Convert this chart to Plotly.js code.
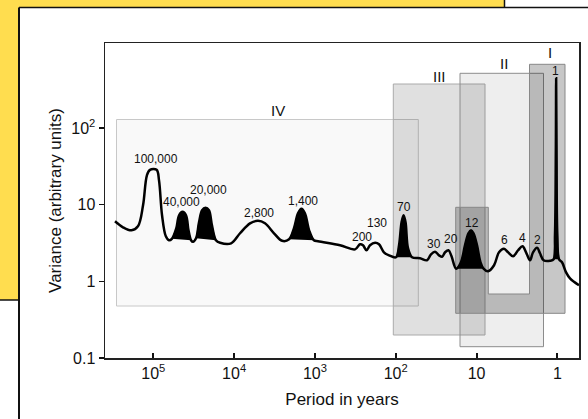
<!DOCTYPE html>
<html><head><meta charset="utf-8">
<script src="https://cdn.plot.ly/plotly-3.0.1.min.js"></script>
<style>html,body{margin:0;padding:0;background:#fff;}#chart{width:588px;height:419px;}</style>
</head><body><div id="chart"></div>
<script>
// ---- data ----
const periodYears = [298000,237000,186000,155000,134000,120000,110000,91000,85000,78000,
  70000,64000,59000,52000,48000,43500,39400,36700,34100,32300,
  29600,27200,24900,22600,20500,18800,16800,14900,10900,8450,
  6360,5060,4150,3210,2550,2090,1820,1620,1470,1330,
  1180,1030,916,489,319,277,254,230,208,180,
  161,140,121,99.1,91.0,84.7,80.0,75.6,70.4,62.8,
  50.0,41.0,36.6,32.6,29.1,26.7,24.5,22.2,20.4,17.9,
  15.6,13.9,12.6,11.7,10.9,9.86,8.93,8.19,7.21,6.07,
  5.27,4.57,4.07,3.53,3.06,2.70,2.44,2.18,2.00,1.78,
  1.64,1.48,1.23,1.11,1.07,1.044,1.035,1.023,1.00,0.953,
  0.875,0.780,0.697,0.540];
const variance = [6.06,5.06,4.62,5.21,9.79,24.1,28.4,28.4,20.7,7.26,
  3.86,3.43,3.58,4.91,7.26,8.05,7.26,4.62,3.43,3.27,
  3.64,5.88,8.43,9.08,8.43,5.37,3.43,3.18,3.13,4.23,
  5.70,6.15,5.70,4.23,3.37,3.53,4.91,7.71,8.81,7.71,
  4.62,3.43,3.32,2.95,2.61,3.04,2.95,2.54,2.95,3.18,
  3.04,2.39,2.18,2.06,2.95,5.88,7.26,5.88,2.69,2.06,
  2.00,1.88,2.25,2.43,2.18,2.09,2.39,2.54,2.12,1.46,
  1.77,2.95,4.23,4.62,4.23,2.95,1.77,1.46,1.35,1.62,
  2.39,2.65,2.39,2.12,2.54,2.86,2.39,1.88,2.39,2.74,
  2.32,1.88,1.85,1.94,3.98,51.0,443,51.0,3.98,1.94,
  1.77,1.31,1.09,0.887];
// index ranges (into the arrays above) of the black-filled peaks
const filledPeakRanges = [[12,18],[20,26],[35,41],[53,59],[69,77],[93,99]];
const peakLabels = ['100,000','40,000','20,000','2,800','1,400','200','130','70','30','20','12','6','4','2','1'];
const regionLabels = ['IV','III','II','I'];
const xTickVals = [100000,10000,1000,100,10,1];
const xTickText = ['10<sup>5</sup>','10<sup>4</sup>','10<sup>3</sup>','10<sup>2</sup>','10','1'];
const yTickVals = [0.1,1,10,100];
const yTickText = ['0.1','1','10','10<sup>2</sup>'];

// ---- layout geometry (pixels) ----
const L=105, R=579, T=43, B=358;
const fx = x => (x-L)/(R-L);
const fy = y => (B-y)/(B-T);
const FONT = 'Arial, "Liberation Sans", sans-serif';

const peakLabelPos = [[156,158.5],[181,202],[208,190],[259,213],[302.5,200.5],[361.7,236.7],[377,223.3],
  [403.7,206.7],[434,244],[450.5,239.3],[471.7,222.7],[504.3,240],[522.3,238.3],[537.7,240],[555,70.7]];
const regionLabelPos = [[277.5,110],[439,76.5],[504,63],[550,52.5]];

const traces = [];
filledPeakRanges.forEach(([a,b]) => {
  traces.push({x: periodYears.slice(a,b+1), y: variance.slice(a,b+1), mode:'lines', fill:'toself',
    fillcolor:'#000', line:{color:'#000', width:0.5, shape:'spline', smoothing:1}, hoverinfo:'skip', showlegend:false});
});
traces.push({x: periodYears, y: variance, mode:'lines', line:{color:'#000', width:2.5, shape:'spline', smoothing:1},
  hoverinfo:'skip', showlegend:false});

function rect(x0,y0,x1,y1,fill,line){
  return {type:'rect', xref:'paper', yref:'paper', x0:fx(x0), x1:fx(x1), y0:fy(y1), y1:fy(y0),
    fillcolor:fill, line:{color:line, width:1}, layer:'below'};
}
function path(pts, fill, line, lw){
  const d = pts.map((p,i)=>(i?'L':'M')+fx(p[0])+','+fy(p[1])).join(' ') + (fill?' Z':'');
  return {type:'path', xref:'paper', yref:'paper', path:d, fillcolor:fill||'rgba(0,0,0,0)',
    line:{color:line, width:lw}, layer:'below'};
}
const Yb = 300;
const shapes = [
  // slide decoration
  path([[0,0],[504.5,0],[504.5,7.5],[19,7.5],[19,Yb],[0,Yb]], '#ffdd4f', 'rgba(0,0,0,0)', 0),
  path([[504.5,0],[504.5,7.5]], null, '#111', 1.5),
  path([[0,Yb],[19,Yb]], null, '#111', 1.5),
  path([[19,7.5],[19,419]], null, '#111', 2),
  path([[19,7.5],[588,7.5]], null, '#111', 1.5),
  // scale regions
  rect(116.5,119.5,418.3,306,'rgba(0,0,0,0.025)','#c8c8c8'),
  rect(393.3,84,485,335,'rgba(0,0,0,0.12)','#aaaaaa'),
  rect(460,73.3,543.5,346.7,'rgba(0,0,0,0.065)','#8c8c8c'),
  path([[455.7,313.3],[565,313.3],[565,64.3],[529.5,64.3],[529.5,294],[488.3,294],[488.3,207.3],[455.7,207.3]],
    'rgba(0,0,0,0.22)','#888888',1)
];

const annotations = [];
peakLabels.forEach((t,i)=>annotations.push({text:t, xref:'paper', yref:'paper', x:fx(peakLabelPos[i][0]), y:fy(peakLabelPos[i][1]),
  xanchor:'center', yanchor:'middle', showarrow:false, font:{family:FONT, size:12, color:'#111'}}));
regionLabels.forEach((t,i)=>annotations.push({text:t, xref:'paper', yref:'paper', x:fx(regionLabelPos[i][0]), y:fy(regionLabelPos[i][1]),
  xanchor:'center', yanchor:'middle', showarrow:false, font:{family:FONT, size:15, color:'#111'}}));

const layout = {
  width:588, height:419, margin:{l:L, r:588-R, t:T, b:419-B},
  paper_bgcolor:'#fff', plot_bgcolor:'rgba(0,0,0,0)', showlegend:false,
  font:{family:FONT, color:'#111'},
  xaxis:{type:'log', range:[5.598,-0.268], tickvals:xTickVals, ticktext:xTickText, ticks:'inside', ticklen:5, tickwidth:2,
    tickcolor:'#111', showline:true, linecolor:'#222', linewidth:1.5, mirror:true, showgrid:false, zeroline:false,
    tickfont:{family:FONT, size:16, color:'#111'}, title:{text:'Period in years', font:{family:FONT, size:17, color:'#111'}, standoff:12}},
  yaxis:{type:'log', range:[-1,3.107], tickvals:yTickVals, ticktext:yTickText, ticks:'outside', ticklen:5, tickwidth:1.5,
    tickcolor:'#111', showline:true, linecolor:'#222', linewidth:1.5, mirror:true, showgrid:false, zeroline:false,
    tickfont:{family:FONT, size:16, color:'#111'}, title:{text:'Variance (arbitrary units)', font:{family:FONT, size:17, color:'#111'}, standoff:5}},
  shapes: shapes, annotations: annotations
};
Plotly.newPlot('chart', traces, layout, {staticPlot:true, displayModeBar:false});
</script></body></html>
